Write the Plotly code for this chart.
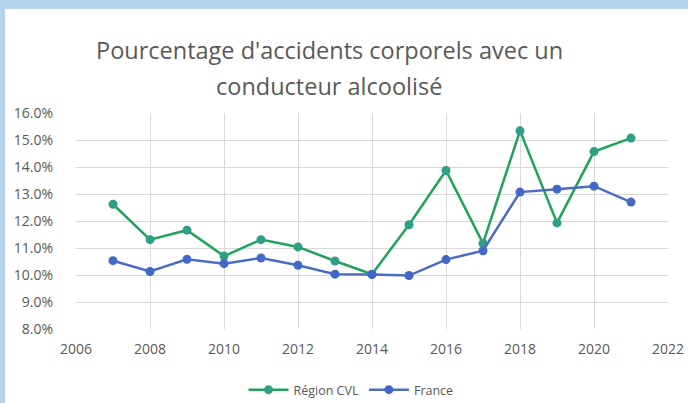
import plotly.graph_objects as go

years = [2007, 2008, 2009, 2010, 2011, 2012, 2013, 2014, 2015, 2016, 2017, 2018, 2019, 2020, 2021]
region_cvl = [0.1262, 0.1131, 0.1166, 0.1070, 0.1131, 0.1104, 0.1052, 0.1003, 0.1186, 0.1387, 0.1117, 0.1534, 0.1193, 0.1457, 0.1507]
france = [0.1053, 0.1013, 0.1058, 0.1042, 0.1063, 0.1036, 0.1003, 0.1002, 0.0998, 0.1057, 0.1090, 0.1307, 0.1318, 0.1329, 0.1270]

title_lines = ["Pourcentage d'accidents corporels avec un", "conducteur alcoolisé"]
series_names = ["Région CVL", "France"]

W, H = 688, 403
ml, mr, mt, mb = 76, 20, 113, 74
pw, ph = W - ml - mr, H - mt - mb

def px_x(p):
    return (p - ml) / pw

def px_y(p):
    return (H - mb - p) / ph

fig = go.Figure()
fig.add_trace(go.Scatter(
    x=years, y=region_cvl, name=series_names[0], mode="lines+markers",
    line=dict(color="#21A35C", width=2.5),
    marker=dict(color="#2E9E85", size=9),
))
fig.add_trace(go.Scatter(
    x=years, y=france, name=series_names[1], mode="lines+markers",
    line=dict(color="#4A6CC4", width=2.5),
    marker=dict(color="#4268C8", size=9),
))

title_y_px = [50, 86]
annotations = [
    dict(text=t, xref="paper", yref="paper", x=px_x(329), y=px_y(yp),
         xanchor="center", yanchor="middle", showarrow=False,
         font=dict(family="Open Sans", size=23.5, color="#595959"))
    for t, yp in zip(title_lines, title_y_px)
]

fig.update_layout(
    width=W, height=H,
    margin=dict(l=ml, r=mr, t=mt, b=mb, autoexpand=False),
    paper_bgcolor="white", plot_bgcolor="white",
    font=dict(family="Open Sans", color="#595959", size=12),
    annotations=annotations,
    showlegend=True,
    legend=dict(
        orientation="h", x=px_x(351), xanchor="center", xref="paper",
        y=px_y(390), yanchor="middle", yref="paper",
        font=dict(size=12.5, color="#595959"),
        itemwidth=40,
    ),
    xaxis=dict(
        range=[2006, 2022], dtick=2, tick0=2006,
        showgrid=True, gridcolor="#D9D9D9", gridwidth=1,
        zeroline=False, showline=False, ticks="",
        ticklabelstandoff=10,
        tickfont=dict(size=14, color="#595959"),
    ),
    yaxis=dict(
        range=[0.08, 0.16], dtick=0.01, tick0=0.08, tickformat=".1%",
        showgrid=True, gridcolor="#D9D9D9", gridwidth=1,
        zeroline=False, showline=False, ticks="",
        ticklabelstandoff=22,
        tickfont=dict(size=14, color="#595959"),
    ),
    shapes=[
        dict(type="rect", xref="paper", yref="paper",
             x0=px_x(0), x1=px_x(W), y0=px_y(9), y1=px_y(0),
             fillcolor="#B6D3EC", line=dict(width=0), layer="above"),
        dict(type="rect", xref="paper", yref="paper",
             x0=px_x(0), x1=px_x(5), y0=px_y(H), y1=px_y(0),
             fillcolor="#B6D3EC", line=dict(width=0), layer="above"),
    ],
)

fig.write_html(
    "out.html",
    config={"displayModeBar": False},
    post_script="document.body.style.margin='0';document.body.style.overflow='hidden';",
)
